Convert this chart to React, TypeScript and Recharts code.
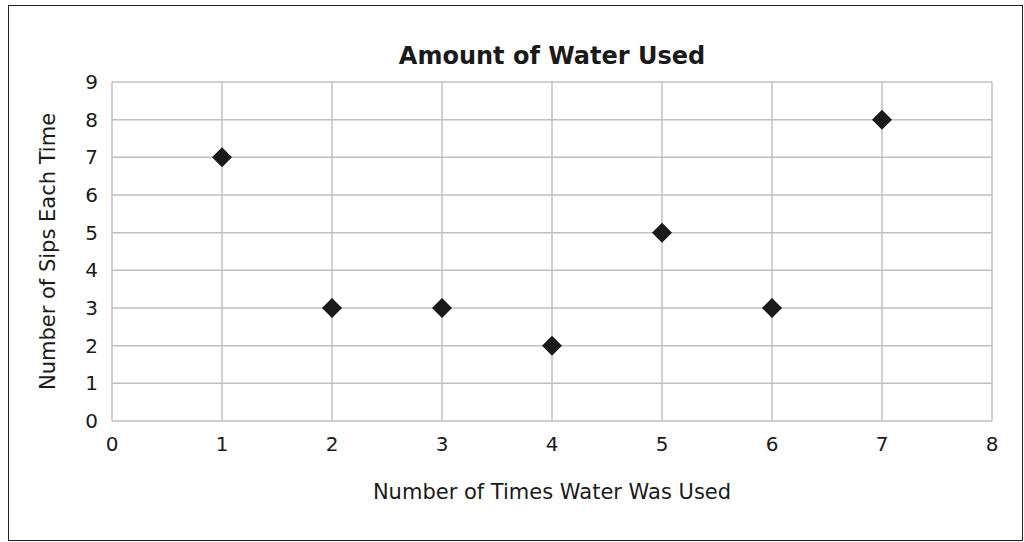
import { ScatterChart, Scatter, XAxis, YAxis, CartesianGrid, Label } from "recharts";

// times water was used vs. sips each time
const timesUsed = [1, 2, 3, 4, 5, 6, 7];
const sipsEachTime = [7, 3, 3, 2, 5, 3, 8];
const xTicks = [0, 1, 2, 3, 4, 5, 6, 7, 8];
const yTicks = [0, 1, 2, 3, 4, 5, 6, 7, 8, 9];

const points = timesUsed.map((t, i) => ({ x: t, y: sipsEachTime[i] }));

const FONT = "'DejaVu Sans', Verdana, sans-serif";

// square diamond marker like the spreadsheet one
const Diamond = (props: any) => {
  const { cx, cy } = props;
  const r = 10;
  return (
    <path
      d={`M${cx},${cy - r} L${cx + r},${cy} L${cx},${cy + r} L${cx - r},${cy} Z`}
      fill="#1a1a1a"
    />
  );
};

export default function App() {
  return (
    <div style={{ position: "absolute", left: 0, top: 0, width: 1024, height: 542, background: "#fff" }}>
      <div
        style={{
          position: "absolute",
          left: 8,
          top: 5,
          width: 1015,
          height: 536,
          border: "1px solid #222",
          boxSizing: "border-box",
        }}
      />
      <div
        style={{
          position: "absolute",
          left: 0,
          width: 1104,
          top: 42,
          textAlign: "center",
          fontFamily: FONT,
          fontWeight: "bold",
          fontSize: 24,
          color: "#1a1a1a",
        }}
      >
        Amount of Water Used
      </div>
      <div style={{ position: "absolute", left: 0, top: 0 }}>
        <ScatterChart width={1024} height={542} margin={{ top: 82, right: 32, bottom: 0, left: 0 }}>
          <CartesianGrid stroke="#c0c0c0" strokeWidth={1.5} />
          <XAxis
            type="number"
            dataKey="x"
            domain={[0, 8]}
            ticks={xTicks}
            interval={0}
            axisLine={false}
            tickLine={false}
            tickSize={0}
            tickMargin={16}
            height={121}
            tick={{ fill: "#1a1a1a", fontSize: 20, fontFamily: FONT }}
          >
            <Label
              value="Number of Times Water Was Used"
              position="insideBottom"
              offset={43}
              style={{ fill: "#1a1a1a", fontSize: 21, fontFamily: FONT }}
            />
          </XAxis>
          <YAxis
            type="number"
            dataKey="y"
            domain={[0, 9]}
            ticks={yTicks}
            interval={0}
            axisLine={false}
            tickLine={false}
            tickSize={0}
            tickMargin={14}
            width={112}
            tick={{ fill: "#1a1a1a", fontSize: 20, fontFamily: FONT }}
          >
            <Label
              value="Number of Sips Each Time"
              angle={-90}
              position="insideLeft"
              offset={48}
              style={{ textAnchor: "middle", fill: "#1a1a1a", fontSize: 21, fontFamily: FONT }}
            />
          </YAxis>
          <Scatter data={points} shape={<Diamond />} isAnimationActive={false} />
        </ScatterChart>
      </div>
    </div>
  );
}
